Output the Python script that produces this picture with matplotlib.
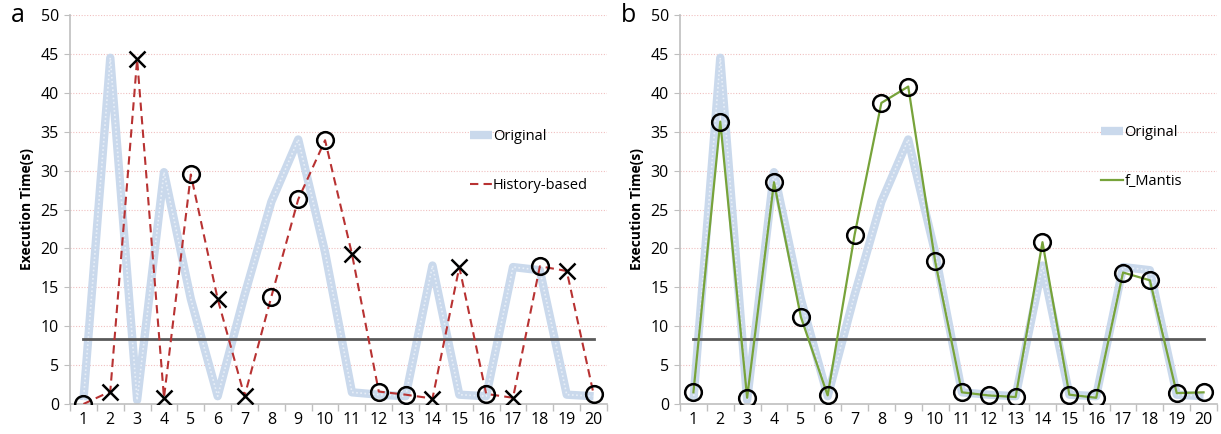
import matplotlib
matplotlib.use("Agg")
import matplotlib.pyplot as plt
import numpy as np

runs = list(range(1, 21))
original = [0.5, 44.5, 0.5, 29.8, 13.5, 1.0, 14.0, 26.0, 34.0, 19.5,
            1.5, 1.2, 1.0, 17.8, 1.2, 1.0, 17.6, 17.2, 1.2, 1.0]
history = [0.0, 1.6, 44.3, 0.8, 29.5, 13.5, 1.0, 13.8, 26.3, 33.9,
           19.3, 1.6, 1.2, 0.7, 17.6, 1.3, 0.8, 17.7, 17.1, 1.3]
history_miss = [2, 3, 4, 6, 7, 11, 14, 15, 17, 19]   # 'x' markers
mantis = [1.5, 36.3, 0.8, 28.5, 11.2, 1.1, 21.7, 38.7, 40.8, 18.4,
          1.5, 1.1, 0.9, 20.8, 1.2, 0.8, 16.9, 15.9, 1.4, 1.5]
threshold = 8.3
yticks = list(range(0, 51, 5))

plt.rcParams['font.family'] = ['Open Sans', 'DejaVu Sans']

fig = plt.figure(figsize=(12.21, 4.34), dpi=100)
ax_a = fig.add_axes([70/1221, 1-404/434, 537/1221, 389/434])
ax_b = fig.add_axes([680/1221, 1-404/434, 537/1221, 389/434])

orig_color = '#cad9ec'

def style(ax):
    ax.set_xlim(0.5, 20.5)
    ax.set_ylim(0, 50)
    ax.set_yticks(yticks)
    ax.set_xticks(runs)
    ax.set_xticks(np.arange(0.5, 21, 1), minor=True)
    ax.tick_params(axis='x', which='major', length=0, labelsize=11.5, pad=6)
    ax.tick_params(axis='x', which='minor', length=5, color='#bfbfbf', width=1)
    ax.tick_params(axis='y', length=4, color='#bfbfbf', labelsize=11.5, pad=4)
    for s in ['top', 'right']:
        ax.spines[s].set_visible(False)
    for s in ['left', 'bottom']:
        ax.spines[s].set_color('#bfbfbf')
        ax.spines[s].set_linewidth(1.2)
    for y in yticks[1:]:
        ax.axhline(y, color='#f0c0c0', lw=0.8, ls=(0, (1, 1.5)), zorder=0)
    ax.set_ylabel('Execution Time(s)', fontsize=10, fontweight='bold', labelpad=5)
    ax.plot([runs[0], runs[-1]], [threshold, threshold], color='#595959', lw=2, zorder=3)

def plot_orig(ax):
    line, = ax.plot(runs, original, color=orig_color, lw=6, zorder=1,
                    solid_joinstyle='round', solid_capstyle='butt', label='Original')
    ax.plot(runs, original, color='#e8eff8', lw=1.2, ls=(0, (1, 1.5)), zorder=1)
    return line

# Panel a
style(ax_a)
l1 = plot_orig(ax_a)
l2, = ax_a.plot(runs, history, color='#b83232', lw=1.5, ls=(0, (4, 2.5)), zorder=4,
                label='History-based')
for r, v in zip(runs, history):
    if r in history_miss:
        ax_a.plot(r, v, marker='x', ms=12, mew=1.8, color='black', zorder=5)
    else:
        ax_a.plot(r, v, marker='o', ms=12, mew=1.8, mfc='none', mec='black', zorder=5)
ax_a.legend(handles=[l1, l2], loc='upper left', bbox_to_anchor=(0.72, 0.74),
            frameon=False, handlelength=1.5, handletextpad=0.1,
            labelspacing=2.3, fontsize=10.5)
ax_a.text(-0.11, 1.0, 'a', transform=ax_a.transAxes, fontsize=18, va='center', ha='left')

# Panel b
style(ax_b)
m1 = plot_orig(ax_b)
m2, = ax_b.plot(runs, mantis, color='#77a33a', lw=1.6, zorder=4, label='f_Mantis')
ax_b.plot(runs, mantis, ls='none', marker='o', ms=12, mew=1.8, mfc='none',
          mec='black', zorder=5)
ax_b.legend(handles=[m1, m2], loc='upper left', bbox_to_anchor=(0.76, 0.75),
            frameon=False, handlelength=1.5, handletextpad=0.1,
            labelspacing=2.3, fontsize=10.5)
ax_b.text(-0.11, 1.0, 'b', transform=ax_b.transAxes, fontsize=18, va='center', ha='left')

fig.savefig('out.png', dpi=100)
